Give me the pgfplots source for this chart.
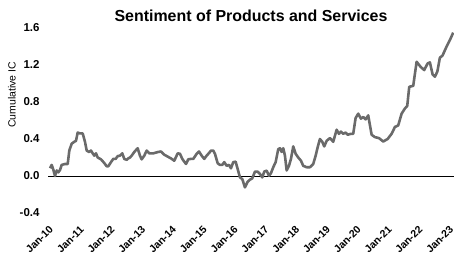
\documentclass[border=0pt]{standalone}
\usepackage{fontspec}
\setmainfont{Liberation Sans}
\usepackage{pgfplots}
\pgfplotsset{compat=1.18}
\usepackage{pgfplotstable}
\pgfplotstableread{
t v
0 0.084
0.055 0.12
0.107 0.07
0.162 0.00
0.218 0.06
0.27 0.04
0.325 0.065
0.38 0.12
0.487 0.13
0.575 0.13
0.627 0.275
0.705 0.35
0.789 0.37
0.844 0.38
0.899 0.47
0.974 0.46
1.062 0.46
1.136 0.37
1.192 0.275
1.266 0.26
1.331 0.275
1.386 0.245
1.438 0.22
1.494 0.245
1.549 0.20
1.656 0.18
1.763 0.14
1.841 0.105
1.893 0.105
1.981 0.15
2.055 0.185
2.133 0.185
2.198 0.215
2.273 0.22
2.347 0.245
2.412 0.185
2.49 0.175
2.542 0.19
2.597 0.20
2.653 0.22
2.737 0.26
2.847 0.30
2.922 0.22
2.977 0.18
3.062 0.22
3.139 0.275
3.224 0.245
3.354 0.245
3.516 0.26
3.604 0.265
3.711 0.23
3.821 0.21
3.929 0.19
4.036 0.165
4.146 0.245
4.221 0.24
4.296 0.185
4.36 0.155
4.416 0.13
4.49 0.18
4.578 0.185
4.653 0.185
4.763 0.24
4.838 0.265
4.925 0.22
5.01 0.185
5.088 0.22
5.195 0.26
5.227 0.275
5.302 0.275
5.357 0.24
5.445 0.138
5.519 0.12
5.594 0.12
5.659 0.15
5.737 0.11
5.812 0.12
5.877 0.083
5.951 0.15
6.029 0.155
6.094 0.076
6.169 -0.015
6.244 -0.033
6.331 -0.123
6.419 -0.062
6.494 -0.04
6.568 -0.025
6.656 0.047
6.743 0.047
6.818 0.022
6.893 -0.015
6.958 0.047
7.036 0.058
7.11 0.003
7.175 0.03
7.25 0.095
7.328 0.15
7.412 0.29
7.468 0.30
7.523 0.26
7.575 0.30
7.63 0.22
7.685 0.06
7.76 0.11
7.825 0.185
7.9 0.32
7.977 0.24
8.062 0.20
8.149 0.166
8.224 0.11
8.334 0.095
8.442 0.095
8.549 0.13
8.627 0.22
8.692 0.31
8.766 0.40
8.841 0.37
8.906 0.32
8.984 0.38
9.091 0.41
9.198 0.37
9.308 0.50
9.383 0.456
9.448 0.48
9.523 0.456
9.6 0.47
9.666 0.446
9.773 0.456
9.847 0.456
9.925 0.627
10.01 0.674
10.097 0.62
10.172 0.638
10.25 0.612
10.334 0.655
10.445 0.446
10.552 0.42
10.682 0.41
10.821 0.373
10.964 0.40
11.094 0.456
11.201 0.53
11.308 0.547
11.419 0.674
11.526 0.73
11.601 0.757
11.666 0.964
11.796 0.975
11.906 1.235
12.036 1.18
12.153 1.145
12.263 1.217
12.338 1.228
12.425 1.098
12.5 1.073
12.58 1.13
12.662 1.28
12.744 1.30
12.88 1.40
12.987 1.47
13.094 1.55
}\datatable
\definecolor{linegray}{HTML}{6A6A6A}
\begin{document}
\begin{tikzpicture}
\useasboundingbox (0,0) rectangle (454bp,260bp);
\begin{axis}[
  at={(48bp,47bp)}, anchor=south west,
  scale only axis, width=406bp, height=185bp,
  xmin=-0.065, xmax=13.12, ymin=-0.4, ymax=1.6,
  axis line style={draw=none}, major tick style={draw=none},
  xtick={0,...,13},
  xticklabels={Jan-10,Jan-11,Jan-12,Jan-13,Jan-14,Jan-15,Jan-16,Jan-17,Jan-18,Jan-19,Jan-20,Jan-21,Jan-22,Jan-23},
  xticklabel style={yshift=-12bp, xshift=-1.5bp, rotate=45, anchor=north east, inner sep=0pt, font=\fontsize{10.5}{12}\selectfont\bfseries},
  ytick={-0.4,0,0.4,0.8,1.2,1.6},
  yticklabel style={/pgf/number format/fixed, /pgf/number format/precision=1, /pgf/number format/fixed zerofill, /pgf/number format/assume math mode=true, font=\fontsize{11.5}{13}\selectfont\bfseries, xshift=-5bp},
  ylabel={Cumulative IC},
  ylabel style={at={(axis description cs:-0.0887,0.638)}, anchor=center, font=\fontsize{10.5}{12}\selectfont},
  title={Sentiment of Products and Services},
  title style={at={(axis description cs:0.5,1)}, anchor=base, yshift=1bp, font=\fontsize{16}{18}\selectfont\bfseries},
  clip=false,
]
\draw[black, line width=0.8pt] (rel axis cs:0,0.2) -- (rel axis cs:1,0.2);
\addplot[linegray, line width=2.6pt, line join=round] table[x=t, y=v] {\datatable};
\end{axis}
\end{tikzpicture}
\end{document}
